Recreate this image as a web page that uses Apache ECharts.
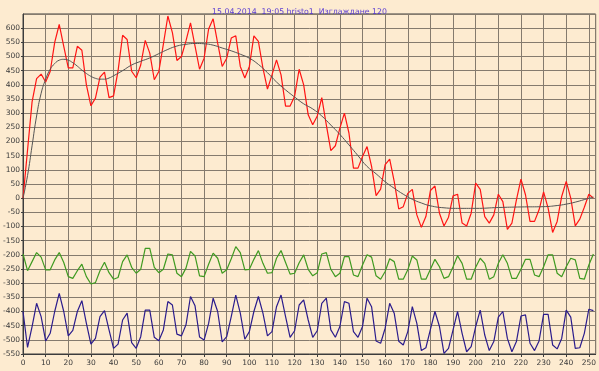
<!DOCTYPE html>
<html>
<head>
<meta charset="utf-8">
<title>hristo1</title>
<script src="https://cdn.jsdelivr.net/npm/echarts@6/dist/echarts.min.js"></script>
<style>
  html, body { margin: 0; padding: 0; background: #fdebd0; }
  #chart { width: 599px; height: 371px; }
</style>
</head>
<body>
<div id="chart"></div>
<script>
// x positions shared by the three measured series (every 2 units)
var xs = [];
for (var k = 0; k <= 252; k += 2) xs.push(k);

var red = [
  0, 170, 340, 422, 438, 410, 447, 550, 613, 536,
  460, 460, 536, 522, 400, 326, 353, 427, 445, 355,
  361, 450, 575, 560, 448, 425, 470, 557, 512, 418,
  447, 543, 643, 584, 486, 500, 555, 619, 537, 455,
  494, 597, 633, 547, 465, 494, 565, 573, 465, 424,
  465, 573, 553, 459, 385, 435, 488, 435, 325, 325,
  360, 455, 400, 294, 259, 290, 355, 259, 168, 185,
  247, 300, 230, 106, 106, 147, 182, 112, 9, 32,
  118, 138, 59, -38, -30, 17, 31, -59, -103, -65,
  27, 43, -53, -98, -67, 8, 14, -88, -98, -53,
  53, 31, -65, -88, -59, 14, -12, -110, -88, -6,
  67, 12, -82, -82, -41, 22, -35, -121, -82, 6,
  59, 0, -98, -74, -32, 14, 0
];

var green = [
  -197, -256, -224, -192, -208, -253, -253, -218, -192, -227,
  -277, -283, -256, -233, -277, -303, -298, -256, -226, -263,
  -286, -280, -224, -200, -244, -265, -251, -177, -177, -244,
  -263, -251, -197, -200, -265, -277, -247, -188, -204, -274,
  -277, -233, -194, -212, -265, -253, -214, -171, -192, -253,
  -251, -216, -185, -230, -265, -263, -212, -185, -227, -268,
  -265, -228, -200, -251, -274, -263, -197, -192, -251, -277,
  -265, -206, -206, -271, -277, -236, -200, -208, -274, -286,
  -259, -214, -224, -286, -286, -253, -204, -218, -286, -286,
  -251, -216, -242, -283, -277, -242, -203, -230, -286, -286,
  -244, -212, -230, -286, -277, -230, -200, -230, -283, -283,
  -251, -216, -216, -271, -277, -242, -200, -200, -265, -277,
  -242, -212, -218, -283, -286, -236, -197
];

var blue = [
  -400, -527, -453, -371, -418, -504, -477, -400, -336, -400,
  -486, -467, -400, -362, -442, -515, -495, -418, -397, -465,
  -530, -515, -430, -406, -510, -530, -489, -395, -395, -491,
  -503, -465, -365, -377, -480, -486, -447, -347, -380, -490,
  -501, -442, -353, -400, -507, -489, -418, -342, -406, -498,
  -471, -400, -347, -406, -486, -471, -383, -342, -418, -491,
  -468, -377, -359, -430, -491, -468, -371, -353, -465, -491,
  -453, -365, -371, -471, -491, -453, -353, -383, -504, -512,
  -459, -371, -406, -505, -518, -471, -383, -442, -538, -528,
  -463, -400, -453, -548, -530, -465, -400, -477, -542, -524,
  -453, -395, -483, -538, -506, -420, -400, -495, -542, -506,
  -416, -412, -512, -538, -504, -410, -410, -518, -532, -495,
  -395, -420, -530, -528, -477, -392, -397
];

// smoothed curve (Изглаждане 120)
var smoothX = [0, 2, 4, 6, 8, 10, 12, 14, 16, 18, 20, 22, 24, 26, 28, 30, 32, 34, 36, 38,
  40, 44, 48, 52, 56, 60, 64, 68, 72, 76, 80, 84, 88, 92, 96, 100, 104, 108, 112, 116,
  120, 124, 128, 132, 136, 140, 144, 148, 152, 156, 160, 164, 168, 172, 176, 180, 186, 192, 200, 210,
  220, 230, 236, 240, 244, 248, 252];
var smoothY = [0, 80, 185, 290, 370, 420, 455, 475, 487, 490, 487, 478, 466, 452, 440, 430, 423, 420, 420, 424,
  432, 450, 470, 483, 495, 510, 525, 537, 543, 546, 545, 540, 530, 520, 508, 494, 472, 443, 410, 382,
  357, 333, 315, 290, 258, 225, 188, 150, 112, 86, 58, 35, 14, -4, -17, -27, -34, -36, -36, -33,
  -31, -30, -26, -21, -14, -5, 4];

var titleText = '15.04.2014  19:05 hristo1  Изглаждане 120';

function pairs(xv, yv) {
  return xv.map(function (x, i) { return [x, yv[i]]; });
}

var chart = echarts.init(document.getElementById('chart'));

var gridColor = '#857b6e';
var labelStyle = { color: '#3a3a3a', fontFamily: 'DejaVu Sans', fontSize: 7.5 };

var option = {
  animation: false,
  backgroundColor: '#fdebd0',
  title: {
    text: titleText,
    left: 'center',
    top: 3,
    textStyle: { color: '#5a3cd2', fontFamily: 'DejaVu Sans', fontSize: 7.8, fontWeight: 'normal' }
  },
  grid: {
    left: 22, right: 0, top: 14, bottom: 17,
    show: true,
    backgroundColor: '#fdebd0',
    borderColor: '#3c3c3c',
    borderWidth: 1
  },
  xAxis: {
    type: 'value',
    min: 0,
    max: 253,
    interval: 10,
    axisLine: { onZero: false, lineStyle: { color: '#3c3c3c' } },
    axisTick: { show: true, length: 3, lineStyle: { color: '#3c3c3c' } },
    axisLabel: Object.assign({ margin: 5, showMaxLabel: false }, labelStyle),
    splitLine: { show: true, lineStyle: { color: gridColor, width: 1 } }
  },
  yAxis: {
    type: 'value',
    min: -550,
    max: 650,
    interval: 50,
    axisLine: { show: true, onZero: false, lineStyle: { color: '#3c3c3c' } },
    axisTick: { show: true, length: 2, lineStyle: { color: '#3c3c3c' } },
    axisLabel: Object.assign({ margin: 3, showMaxLabel: false }, labelStyle),
    splitLine: { show: true, lineStyle: { color: gridColor, width: 1 } }
  },
  series: [
    {
      name: 'red', type: 'line', symbol: 'none',
      lineStyle: { color: '#ff1414', width: 1.2 },
      data: pairs(xs, red)
    },
    {
      name: 'smooth', type: 'line', symbol: 'none', smooth: true,
      lineStyle: { color: '#555555', width: 1 },
      data: pairs(smoothX, smoothY)
    },
    {
      name: 'green', type: 'line', symbol: 'none',
      lineStyle: { color: '#3f9a20', width: 1.2 },
      data: pairs(xs, green)
    },
    {
      name: 'blue', type: 'line', symbol: 'none',
      lineStyle: { color: '#2b1c8c', width: 1.2 },
      data: pairs(xs, blue)
    }
  ]
};

chart.setOption(option);
</script>
</body>
</html>
